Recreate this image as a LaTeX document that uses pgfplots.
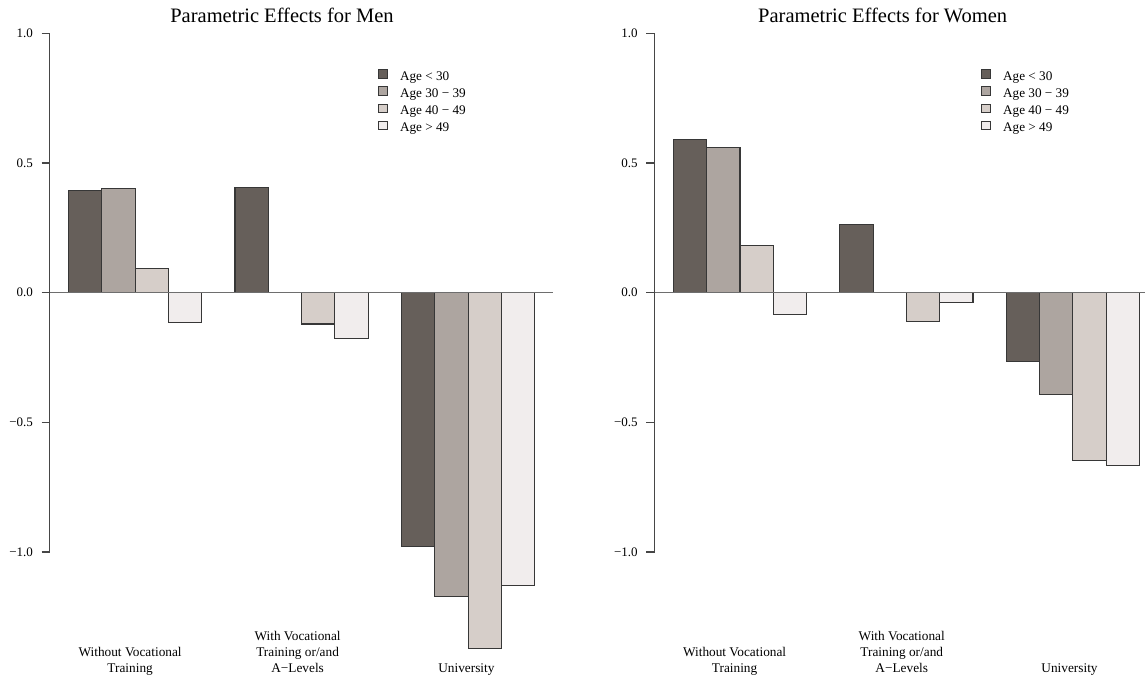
\documentclass[border=0pt]{standalone}
\usepackage{pgfplots}
\pgfplotsset{compat=1.18}
\usepackage{fontspec}
\setmainfont{Liberation Serif}
\definecolor{cA}{RGB}{102,95,90}
\definecolor{cB}{RGB}{173,165,160}
\definecolor{cC}{RGB}{214,206,201}
\definecolor{cD}{RGB}{241,237,237}
\definecolor{edge}{RGB}{55,55,55}
\definecolor{axc}{RGB}{70,70,70}
\definecolor{zl}{RGB}{110,110,110}
\pgfplotsset{
  panel/.style={
    scale only axis, height=518.8pt,
    xmin=0.44, ymin=-1, ymax=1, clip=false,
    axis x line*=bottom, axis y line*=left,
    x axis line style={draw=none},
    y axis line style={-, color=axc, line width=1.2pt},
    major x tick style={draw=none},
    ytick={-1,-0.5,0,0.5,1},
    yticklabels={−1.0,−0.5,0.0,0.5,1.0},
    tick align=outside, major tick length=8.3pt,
    major y tick style={color=axc, line width=1.2pt},
    yticklabel style={font=\fontsize{13}{15}\selectfont, inner sep=0pt, anchor=east, xshift=-8.5pt},
    xticklabel style={font=\fontsize{13.3}{15.8}\selectfont, align=center, inner sep=0pt, anchor=south, yshift=-117.1pt},
    ybar, bar width=1, bar shift=0pt,
    every axis plot/.append style={draw=edge, line width=1.1pt},
    title style={font=\fontsize{20.5}{24}\selectfont, anchor=base},
    legend cell align=left,
    legend image code/.code={\draw[#1, line width=0.9pt] (0pt,0.3pt) rectangle (8.4pt,8.7pt);},
    legend style={draw=none, fill=none, inner sep=0pt, outer sep=0pt, anchor=north west,
      font=\fontsize{13.2}{15}\selectfont,
      nodes={inner sep=0pt, text height=10pt, text depth=6.1pt},
      /tikz/every odd column/.append style={column sep=12.6pt}},
  }
}
\begin{document}
\begin{tikzpicture}
\path (0pt,0pt) rectangle (1146pt,677pt);
\begin{axis}[panel, at={(49.9pt,124.9pt)}, anchor=south west,
  width=503.5pt, xmax=15.56,
  title={Parametric Effects for Men},
  title style={at={(axis description cs:0.461,1.0096)}},
  xtick={2.85,7.88,12.95},
  xticklabels={{Without Vocational\\Training\strut},{With Vocational\\Training or/and\\A−Levels\strut},{University\strut}},
  legend style={at={(axis description cs:0.652,0.9306)}}]
\addplot[fill=cA] coordinates {(1.5,0.394) (6.5,0.406) (11.5,-0.978)};
\addplot[fill=cB] coordinates {(2.5,0.401) (12.5,-1.171)};
\addplot[fill=cC] coordinates {(3.5,0.093) (8.5,-0.121) (13.5,-1.371)};
\addplot[fill=cD] coordinates {(4.5,-0.116) (9.5,-0.176) (14.5,-1.130)};
\legend{Age < 30, Age 30 − 39, Age 40 − 49, Age > 49}
\addplot[sharp plot, draw=zl, line width=1.1pt, forget plot] coordinates {(0.44,0) (15.56,0)};
\end{axis}
\begin{axis}[panel, at={(654.8pt,124.9pt)}, anchor=south west,
  width=490.8pt, xmax=15.18,
  title={Parametric Effects for Women},
  title style={at={(axis description cs:0.4646,1.0096)}},
  xtick={2.84,7.86,12.9},
  xticklabels={{Without Vocational\\Training\strut},{With Vocational\\Training or/and\\A−Levels\strut},{University\strut}},
  legend style={at={(axis description cs:0.6655,0.9306)}}]
\addplot[fill=cA] coordinates {(1.5,0.592) (6.5,0.264) (11.5,-0.266)};
\addplot[fill=cB] coordinates {(2.5,0.561) (12.5,-0.391)};
\addplot[fill=cC] coordinates {(3.5,0.181) (8.5,-0.110) (13.5,-0.647)};
\addplot[fill=cD] coordinates {(4.5,-0.085) (9.5,-0.037) (14.5,-0.665)};
\legend{Age < 30, Age 30 − 39, Age 40 − 49, Age > 49}
\addplot[sharp plot, draw=zl, line width=1.1pt, forget plot] coordinates {(0.44,0) (15.18,0)};
\end{axis}
\end{tikzpicture}
\end{document}
